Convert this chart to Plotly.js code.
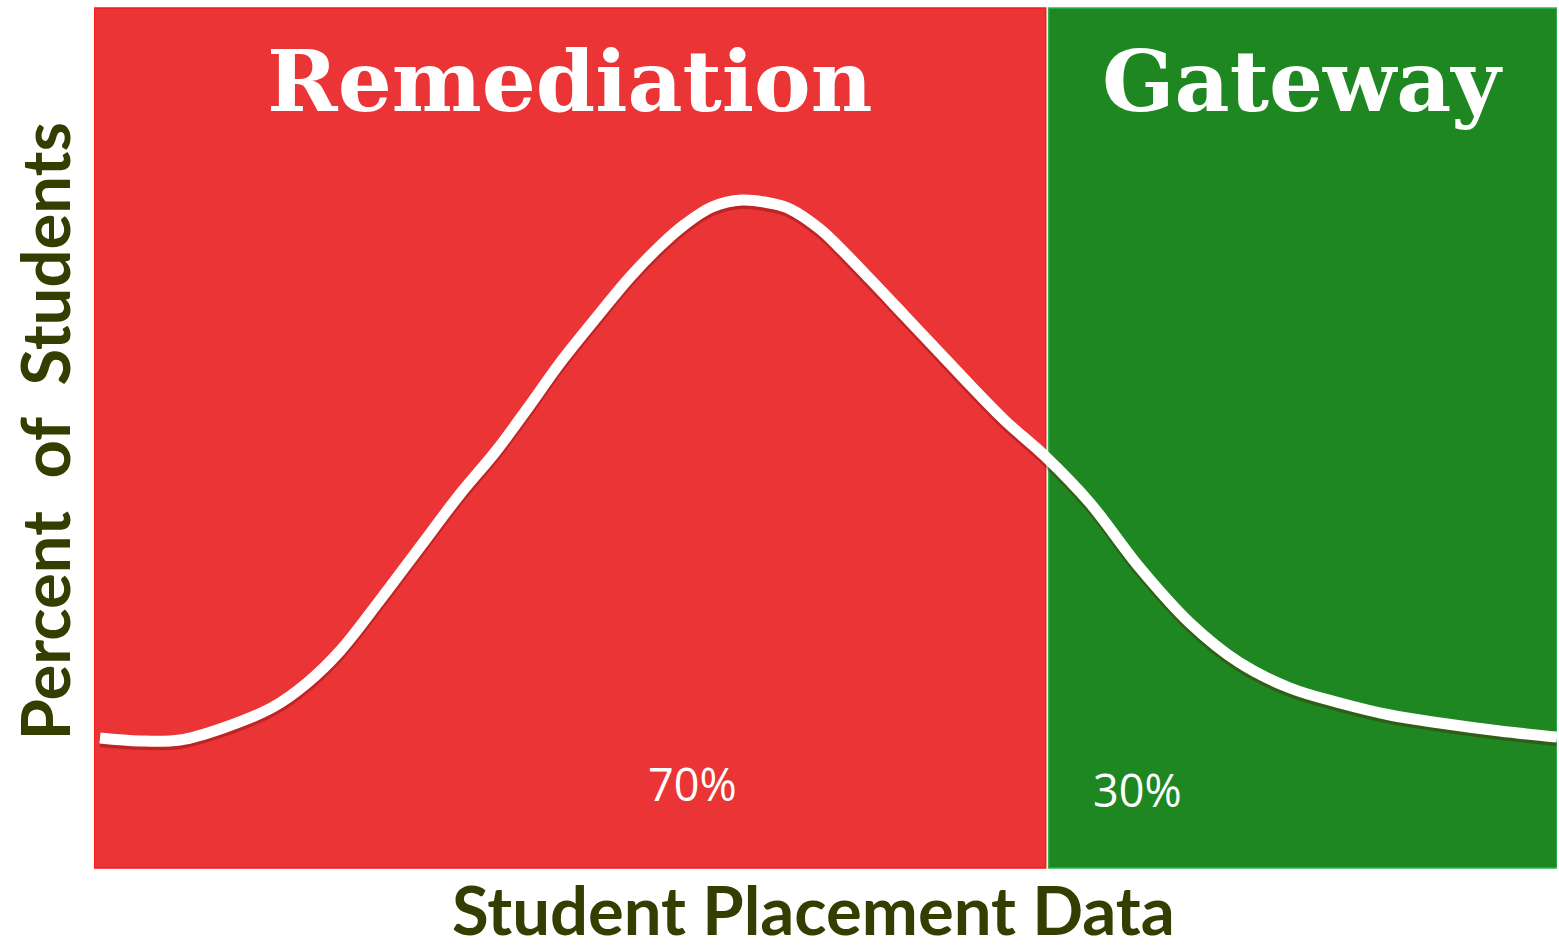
<!DOCTYPE html>
<html>
<head>
<meta charset="utf-8">
<script src="https://cdn.plot.ly/plotly-3.0.1.min.js"></script>
<style>html,body{margin:0;padding:0;background:#fff;}#chart{width:1559px;height:950px;}</style>
</head>
<body>
<div id="chart"></div>
<script>
// Placement score (0-100) and share of students (relative height, 0-100)
const placementScore = [0.41, 3.14, 5.88, 8.82, 12.24, 14.56, 16.81, 19.55, 22.28, 25.02, 27.48, 29.80, 31.85, 34.59, 36.64, 38.69, 40.33, 42.24, 44.29, 46.48, 47.57, 49.62, 50.85, 53.11, 55.43, 57.69, 60.01, 62.27, 65.07, 68.08, 71.50, 74.91, 78.33, 81.75, 85.17, 88.59, 92.00, 96.10, 100];
const percentStudents = [15.12, 14.77, 14.88, 16.28, 18.72, 21.51, 25.23, 31.16, 37.33, 43.49, 48.49, 53.84, 58.72, 64.53, 68.72, 72.33, 74.77, 76.86, 77.67, 77.21, 76.63, 74.30, 72.33, 68.37, 64.19, 60.12, 55.93, 52.02, 47.79, 42.44, 34.88, 28.49, 23.84, 20.93, 19.19, 17.79, 16.86, 15.93, 15.23];

const regionNames = ["Remediation", "Gateway"];
const regionStart = [0, 65.25];
const regionEnd = [65.05, 100];
const regionShare = ["70%", "30%"];
const shareLabelX = [40.9, 71.3];
const shareLabelY = [0.098, 0.091];
const regionFill = ["#EB3436", "#1F8721"];
const regionLine = ["#FF1515", "#2DB550"];

const xAxisTitle = "Student Placement Data";
const yAxisTitle = "Percent\u00a0 of\u00a0 Students";

const shapes = regionNames.map((n, i) => ({
  type: "rect", layer: "below", xref: "x", yref: "paper",
  x0: regionStart[i], x1: regionEnd[i], y0: 0, y1: 1,
  fillcolor: regionFill[i], line: {color: regionLine[i], width: 1.5}
}));

const annotations = [];
regionNames.forEach((n, i) => {
  annotations.push({
    text: "<b>" + n + "</b>", xref: "x", yref: "paper",
    x: (regionStart[i] + regionEnd[i]) / 2, y: 0.915,
    xanchor: "center", yanchor: "middle", showarrow: false,
    font: {family: "DejaVu Serif", size: 85, color: "#FFFFFF"}
  });
  annotations.push({
    text: regionShare[i], xref: "x", yref: "paper",
    x: shareLabelX[i], y: shareLabelY[i],
    xanchor: "center", yanchor: "middle", showarrow: false,
    font: {family: "Open Sans", size: 45, color: "#FFFFFF"}
  });
});
// axis titles
annotations.push({
  text: "<b>" + xAxisTitle + "</b>", xref: "paper", yref: "paper",
  x: 0.4915, y: -0.0475, xanchor: "center", yanchor: "middle", showarrow: false,
  font: {family: "Lato", size: 67, color: "#333F00"}
});
annotations.push({
  text: "<b>" + yAxisTitle + "</b>", xref: "paper", yref: "paper", textangle: -90,
  x: -0.0345, y: 0.507, xanchor: "center", yanchor: "middle", showarrow: false,
  font: {family: "Lato", size: 67, color: "#333F00"}
});

const traces = [
  // soft shadow under the curve (same data, drawn on a slightly shifted axis)
  {x: placementScore, y: percentStudents, type: "scatter", mode: "lines", yaxis: "y",
   line: {color: "rgba(90,0,0,0.30)", width: 11, shape: "spline", smoothing: 1},
   hoverinfo: "skip", showlegend: false},
  {x: placementScore, y: percentStudents, type: "scatter", mode: "lines", yaxis: "y2",
   line: {color: "#FFFFFF", width: 11, shape: "spline", smoothing: 1},
   showlegend: false}
];

const layout = {
  width: 1559, height: 950,
  margin: {l: 94, r: 2, t: 8, b: 82},
  paper_bgcolor: "#FFFFFF", plot_bgcolor: "#FFFFFF",
  showlegend: false,
  xaxis: {range: [0, 100], showgrid: false, zeroline: false, showticklabels: false, ticks: "", showline: false},
  yaxis: {range: [0.4, 100.4], showgrid: false, zeroline: false, showticklabels: false, ticks: "", showline: false},
  yaxis2: {range: [0, 100], overlaying: "y", showgrid: false, zeroline: false, showticklabels: false, ticks: "", showline: false, visible: false},
  shapes: shapes,
  annotations: annotations
};

Plotly.newPlot("chart", traces, layout, {displayModeBar: false, staticPlot: true});
</script>
</body>
</html>
